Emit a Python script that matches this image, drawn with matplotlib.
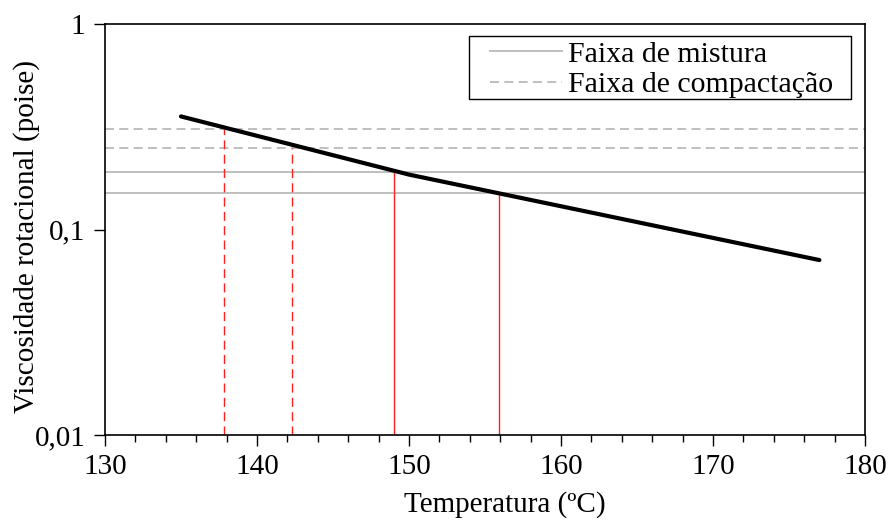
import matplotlib

matplotlib.use("Agg")
import matplotlib.pyplot as plt
from matplotlib.patches import Rectangle
from matplotlib.ticker import FixedLocator, MultipleLocator, NullLocator

# viscosity curve (temperature in ºC, viscosity in poise)
temp = [135, 150, 177]
visc = [0.355, 0.185, 0.071]

# target viscosity bands
mix_band = [0.15, 0.19]
comp_band = [0.25, 0.31]

# temperatures where the curve meets each band limit
mix_temps = [155.9, 149.0]
comp_temps = [142.3, 137.8]

plt.rcParams["font.family"] = ["Liberation Serif", "DejaVu Serif"]
plt.rcParams["lines.scale_dashes"] = False

W, H = 890, 523
fig = plt.figure(figsize=(W / 100, H / 100), dpi=100)
ax = fig.add_axes([105 / W, 88 / H, 760 / W, 411 / H])

band_color = "#bfbfbf"
for i, v in enumerate(mix_band):
    ax.axhline(v, color=band_color, lw=1.4, label="Faixa de mistura" if i == 0 else None)
for i, v in enumerate(comp_band):
    ax.axhline(v, color=band_color, lw=1.4, dashes=(6.5, 3.8),
               label="Faixa de compactação" if i == 0 else None)

for t, v in zip(mix_temps, mix_band):
    ax.plot([t, t], [0.01, v], color="#ff2020", lw=1.0)
for t, v in zip(comp_temps, comp_band):
    ax.plot([t, t], [0.01, v], color="#ff2020", lw=1.0, dashes=(6.5, 3.8))

ax.plot(temp, visc, color="black", lw=3.0, solid_capstyle="round")

ax.set_yscale("log")
ax.set_ylim(0.01, 1)
ax.set_xlim(130, 180)

ax.xaxis.set_major_locator(MultipleLocator(10))
ax.xaxis.set_minor_locator(MultipleLocator(2))
ax.yaxis.set_major_locator(FixedLocator([0.01, 0.1, 1]))
ax.yaxis.set_minor_locator(NullLocator())
ax.set_yticklabels(["0,01", "0,1", "1"])

ax.tick_params(axis="both", which="major", direction="out", length=8, width=1.0,
               labelsize=21, pad=6)
ax.tick_params(axis="x", which="minor", direction="out", length=5, width=1.0)
for side in ax.spines.values():
    side.set_linewidth(1.2)

ax.set_xlabel("Temperatura (ºC)", fontsize=21, labelpad=8)
ax.xaxis.label.set_x((505 - 105) / 760)
ax.set_ylabel("Viscosidade rotacional (poise)", fontsize=21, labelpad=-4)
ax.yaxis.label.set_y(0.484)

# legend box drawn separately so its padding can differ per side
ax.add_patch(Rectangle((0.479, (435 - 99) / 411), 0.9816 - 0.479, 63 / 411,
                       transform=ax.transAxes, facecolor="white",
                       edgecolor="black", lw=1.0, zorder=4))
leg = ax.legend(loc="upper left", bbox_to_anchor=((490 - 105) / 760, (435 - 41) / 411),
                borderaxespad=0, borderpad=0, frameon=False, fontsize=21.5,
                handlelength=2.4, handletextpad=0.2, labelspacing=0.12)
leg.set_zorder(5)

fig.savefig("out.png", dpi=100)
